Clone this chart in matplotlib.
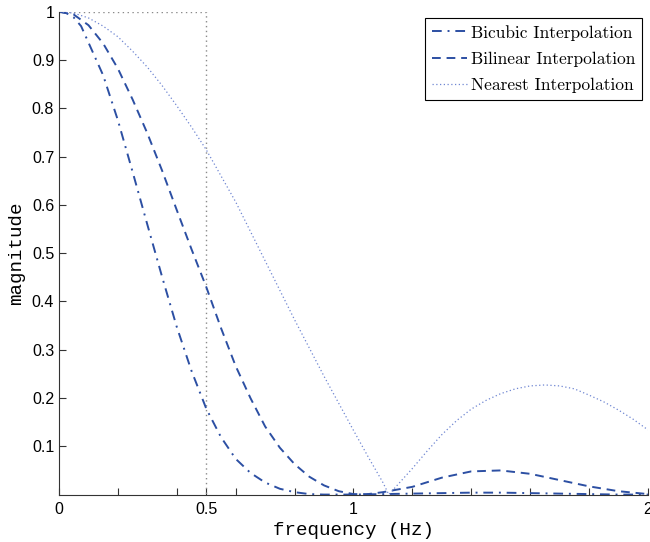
import matplotlib
matplotlib.use("Agg")
import matplotlib.pyplot as plt
import numpy as np

# values
freq_nearest = [0, 0.05, 0.1, 0.15, 0.2, 0.25, 0.3, 0.35, 0.4, 0.45, 0.5, 0.6, 0.7, 0.8,
                0.9, 1.0, 1.05, 1.1, 1.12, 1.2, 1.25, 1.3, 1.35, 1.4, 1.45, 1.5, 1.55,
                1.6, 1.65, 1.7, 1.75, 1.8, 1.85, 1.9, 1.95, 2.0]
mag_nearest = [1.0, 0.997, 0.987, 0.970, 0.948, 0.918, 0.885, 0.847, 0.805, 0.761, 0.714,
               0.606, 0.484, 0.362, 0.245, 0.133, 0.078, 0.025, 0.0, 0.054, 0.090, 0.124,
               0.153, 0.177, 0.195, 0.209, 0.219, 0.225, 0.227, 0.225, 0.219, 0.206,
               0.192, 0.175, 0.156, 0.134]

freq_bilinear = [0, 0.05, 0.1, 0.15, 0.2, 0.25, 0.3, 0.35, 0.4, 0.45, 0.5, 0.55, 0.6,
                 0.65, 0.7, 0.75, 0.8, 0.85, 0.9, 0.95, 1.0, 1.05, 1.1, 1.2, 1.3, 1.4,
                 1.5, 1.6, 1.7, 1.8, 1.9, 2.0]
mag_bilinear = [1.0, 0.994, 0.972, 0.934, 0.882, 0.818, 0.748, 0.671, 0.589, 0.508, 0.430,
                0.345, 0.266, 0.200, 0.141, 0.097, 0.063, 0.037, 0.019, 0.007, 0.001, 0.001,
                0.005, 0.016, 0.035, 0.048, 0.050, 0.043, 0.030, 0.017, 0.007, 0.001]

freq_bicubic = [0, 0.025, 0.05, 0.075, 0.1, 0.15, 0.2, 0.25, 0.3, 0.35, 0.4, 0.45, 0.5,
                0.55, 0.6, 0.65, 0.7, 0.75, 0.8, 0.85, 0.9, 1.0, 1.1, 1.2, 1.3, 1.4, 1.5,
                1.6, 1.7, 1.8, 1.9, 2.0]
mag_bicubic = [1.0, 0.997, 0.988, 0.970, 0.936, 0.868, 0.775, 0.668, 0.559, 0.451, 0.347,
               0.256, 0.178, 0.119, 0.074, 0.045, 0.025, 0.012, 0.005, 0.001, 0.0, 0.0,
               0.001, 0.002, 0.003, 0.004, 0.004, 0.003, 0.002, 0.001, 0.0, 0.0]

# ideal low-pass box
freq_ideal = [0, 0.5, 0.5]
mag_ideal = [1, 1, 0]

xtick_pos = [0, 0.2, 0.4, 0.5, 0.6, 0.8, 1.0, 1.2, 1.4, 1.6, 1.8, 2.0]
xtick_lab = ["0", "", "", "0.5", "", "", "1", "", "", "", "", "2"]
ytick_pos = [0.1, 0.2, 0.3, 0.4, 0.5, 0.6, 0.7, 0.8, 0.9, 1.0]
ytick_lab = ["0.1", "0.2", "0.3", "0.4", "0.5", "0.6", "0.7", "0.8", "0.9", "1"]

blue = "#2c4fa3"
light_blue = "#6f86d2"

fig = plt.figure(figsize=(6.5, 5.42), dpi=100)
ax = fig.add_axes([0.0908, 0.0875, 0.906, 0.891])

ax.plot(freq_ideal, mag_ideal, color="#8a8a8a", lw=1.0, ls=(0, (1, 2.5)))
ax.plot(freq_bicubic, mag_bicubic, color=blue, lw=1.4, ls=(0, (5, 3, 1, 3)),
        label="Bicubic Interpolation")
ax.plot(freq_bilinear, mag_bilinear, color=blue, lw=1.4, ls=(0, (4.5, 3)),
        label="Bilinear Interpolation")
ax.plot(freq_nearest, mag_nearest, color=light_blue, lw=0.9, ls=(0, (1, 2)),
        label="Nearest Interpolation")

ax.set_xlim(0, 2)
ax.set_ylim(0, 1)
ax.set_xticks(xtick_pos)
ax.set_xticklabels(xtick_lab, fontfamily="Liberation Sans", fontsize=11.5)
ax.set_yticks(ytick_pos)
ax.set_yticklabels(ytick_lab, fontfamily="Liberation Sans", fontsize=11.5)
ax.tick_params(direction="in", length=5, width=0.8, colors="#333333", labelcolor="black")
ax.tick_params(axis="x", pad=5)
for s in ["top", "right"]:
    ax.spines[s].set_visible(False)
for s in ["left", "bottom"]:
    ax.spines[s].set_color("#333333")

ax.set_xlabel("frequency (Hz)", fontfamily="Liberation Mono", fontsize=13.8, labelpad=4)
ax.set_ylabel("magnitude", fontfamily="Liberation Mono", fontsize=13.8, labelpad=5)

leg = ax.legend(loc="upper right", fancybox=False, framealpha=1, edgecolor="black",
                prop={"family": "cmr10", "size": 12.5}, handlelength=2.0,
                handletextpad=0.2, borderaxespad=0.35, labelspacing=0.62)
leg.get_frame().set_linewidth(0.8)

fig.savefig("out.png", dpi=100)
